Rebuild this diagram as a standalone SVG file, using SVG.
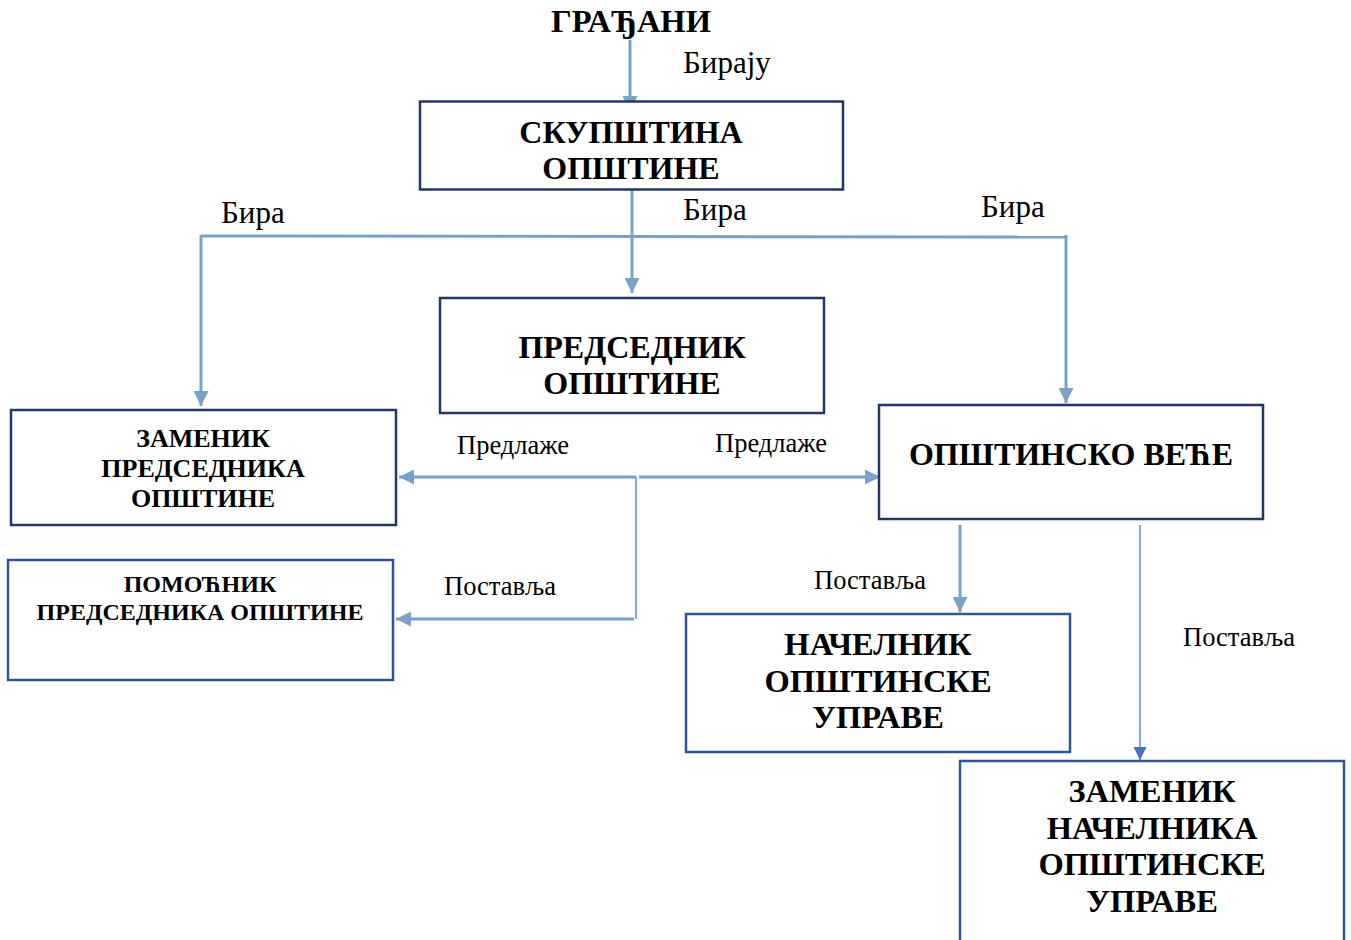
<svg xmlns="http://www.w3.org/2000/svg" width="1351" height="940" viewBox="0 0 1351 940">
<defs>
<style>
.box{fill:#fff;stroke:#1f3864;stroke-width:2.5}
.box2{fill:#fff;stroke:#2f5597;stroke-width:2.5}
.t{font-family:"Liberation Serif","Times New Roman",serif;font-weight:bold;fill:#000;text-anchor:middle}
.l{font-family:"Liberation Serif","Times New Roman",serif;fill:#000}
.c{stroke:#7aa2c8;stroke-width:3;fill:none}
.ct{stroke:#5b8cc8;stroke-width:1.5;fill:none}
</style>
<marker id="ah" viewBox="0 0 10 10" refX="10" refY="5" markerWidth="5" markerHeight="5" markerUnits="strokeWidth" orient="auto">
<path d="M0,0 L10,5 L0,10 z" fill="#7aa2c8"/>
</marker>
<marker id="ah2" viewBox="0 0 10 10" refX="10" refY="5" markerWidth="9" markerHeight="9" markerUnits="strokeWidth" orient="auto">
<path d="M0,0 L10,5 L0,10 z" fill="#4472c4"/>
</marker>
</defs>

<g id="connectors">
<line class="c" x1="630" y1="40" x2="630" y2="111" marker-end="url(#ah)"/>
<line class="c" x1="632" y1="184" x2="632" y2="293" marker-end="url(#ah)"/>
<polyline class="c" points="201,236 1066,237"/>
<line class="c" x1="201" y1="235" x2="201" y2="406" marker-end="url(#ah)"/>
<line class="c" x1="1066" y1="235" x2="1066" y2="403" marker-end="url(#ah)"/>
<line class="c" x1="636" y1="477" x2="399" y2="477" marker-end="url(#ah)"/>
<line class="c" x1="639" y1="477" x2="880" y2="477" marker-end="url(#ah)"/>
<line class="ct" x1="636" y1="477" x2="636" y2="619"/>
<line class="c" x1="634" y1="619" x2="396" y2="619" marker-end="url(#ah)"/>
<line class="c" x1="960" y1="525" x2="960" y2="612" marker-end="url(#ah)"/>
<line class="ct" x1="1140" y1="525" x2="1140" y2="760" marker-end="url(#ah2)"/>
<text class="l" x="683" y="73" font-size="31">Бирају</text>
<text class="l" x="221" y="223" font-size="31">Бира</text>
<text class="l" x="683" y="220" font-size="31">Бира</text>
<text class="l" x="981" y="217" font-size="31">Бира</text>
<text class="l" x="457" y="454" font-size="26.5">Предлаже</text>
<text class="l" x="715" y="452" font-size="26.5">Предлаже</text>
<text class="l" x="444" y="595" font-size="26.5">Поставља</text>
<text class="l" x="814" y="589" font-size="26.5">Поставља</text>
<text class="l" x="1183" y="646" font-size="26.5">Поставља</text>
</g>

<g id="gradjani">
<text class="t" x="631" y="32" font-size="32.5">ГРАЂАНИ</text>
</g>

<g id="skupstina">
<rect class="box" x="420" y="101.5" width="423" height="88"/>
<text class="t" x="631" y="143" font-size="32">СКУПШТИНА</text>
<text class="t" x="631" y="179" font-size="32">ОПШТИНЕ</text>
</g>

<g id="predsednik">
<rect class="box" x="440" y="298" width="384" height="115"/>
<text class="t" x="632" y="358" font-size="32">ПРЕДСЕДНИК</text>
<text class="t" x="632" y="394" font-size="32">ОПШТИНЕ</text>
</g>

<g id="zamenik-predsednika">
<rect class="box" x="11" y="410" width="385" height="115"/>
<text class="t" x="203" y="447" font-size="26">ЗАМЕНИК</text>
<text class="t" x="203" y="477" font-size="26">ПРЕДСЕДНИКА</text>
<text class="t" x="203" y="507" font-size="26">ОПШТИНЕ</text>
</g>

<g id="pomocnik">
<rect class="box2" x="8" y="560" width="385" height="120"/>
<text class="t" x="200" y="592" font-size="24">ПОМОЋНИК</text>
<text class="t" x="200" y="620" font-size="24">ПРЕДСЕДНИКА ОПШТИНЕ</text>
</g>

<g id="opstinsko-vece">
<rect class="box" x="879" y="405" width="384" height="114"/>
<text class="t" x="1071" y="465" font-size="32">ОПШТИНСКО ВЕЋЕ</text>
</g>

<g id="nacelnik">
<rect class="box2" x="686" y="614" width="384" height="138"/>
<text class="t" x="878" y="655" font-size="32.5">НАЧЕЛНИК</text>
<text class="t" x="878" y="692" font-size="32.5">ОПШТИНСКЕ</text>
<text class="t" x="878" y="728" font-size="32.5">УПРАВЕ</text>
</g>

<g id="zamenik-nacelnika">
<rect class="box2" x="960" y="761" width="384" height="200"/>
<text class="t" x="1152" y="802" font-size="32.5">ЗАМЕНИК</text>
<text class="t" x="1152" y="839" font-size="32.5">НАЧЕЛНИКА</text>
<text class="t" x="1152" y="875" font-size="32.5">ОПШТИНСКЕ</text>
<text class="t" x="1152" y="912" font-size="32.5">УПРАВЕ</text>
</g>
</svg>
